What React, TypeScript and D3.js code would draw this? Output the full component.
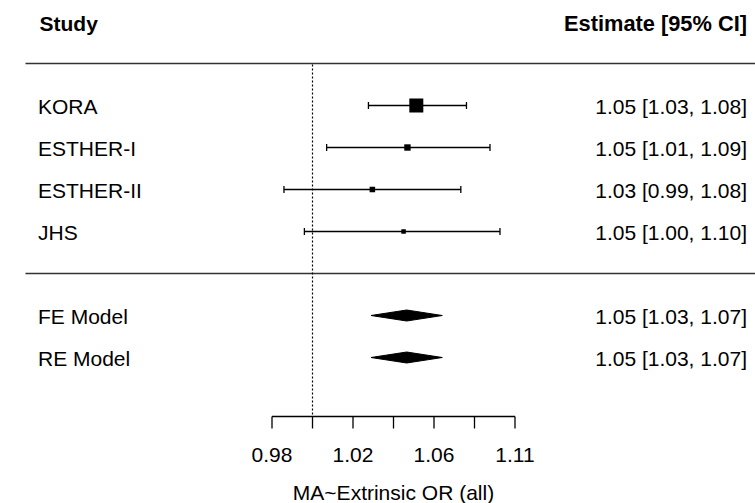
import React from "react";
import * as d3 from "d3";

const studies = ["KORA", "ESTHER-I", "ESTHER-II", "JHS"];
const estOR = [1.0526, 1.048, 1.03, 1.046];
const lowerOR = [1.028, 1.007, 0.986, 0.996];
const upperOR = [1.079, 1.0916, 1.076, 1.097];

const models = ["FE Model", "RE Model"];
const modelEst = [1.0476, 1.0476];
const modelLower = [1.0293, 1.0293];
const modelUpper = [1.0662, 1.0662];

const tickLog = [-0.02, 0, 0.02, 0.04, 0.06, 0.08, 0.1];
const tickLabels = ["0.98", "", "1.02", "", "1.06", "", "1.11"];

const studyRows = [4, 3, 2, 1];
const modelRows = [-1, -2];

const W = 755;
const H = 503;
const FONT = "'Liberation Sans', Arial, sans-serif";
const FS = 21;

export default function App() {
  const x = d3.scaleLinear().domain([-0.02, 0.1]).range([272, 515]);
  const y = d3.scaleLinear().domain([0, 4]).range([273.5, 105.5]);
  const xo = (v: number) => x(Math.log(v));

  const prec = studies.map((_, i) => 3.92 / (Math.log(upperOR[i]) - Math.log(lowerOR[i])));
  const sz = d3.scaleLinear().domain(d3.extent(prec) as [number, number]).range([4.5, 14]);

  const fmt = (v: number) => v.toFixed(2);
  const axisY = 416.5;
  const lw = 1.3;

  return (
    <svg width={W} height={H} style={{ position: "absolute", left: 0, top: 0, background: "#fff" }} fontFamily={FONT}>
      <rect x={0} y={0} width={W} height={H} fill="#fff" />
      {/* headers */}
      <text x={39.5} y={30.5} fontSize={FS} fontWeight="bold">Study</text>
      <text x={747} y={30.5} fontSize={21.8} fontWeight="bold" textAnchor="end">Estimate [95% CI]</text>
      {/* horizontal rules */}
      <line x1={25.5} x2={W} y1={y(5)} y2={y(5)} stroke="#333" strokeWidth={1.5} />
      <line x1={25.5} x2={W} y1={y(0)} y2={y(0)} stroke="#333" strokeWidth={1.5} />
      {/* null line */}
      <line x1={x(0)} x2={x(0)} y1={y(5) + 1} y2={axisY} stroke="#000" strokeWidth={1.2} strokeDasharray="2,2" />
      {/* studies */}
      {studies.map((s, i) => {
        const yy = y(studyRows[i]);
        const side = sz(prec[i]);
        return (
          <g key={s}>
            <text x={38} y={yy + 8} fontSize={FS}>{s}</text>
            <line x1={xo(lowerOR[i])} x2={xo(upperOR[i])} y1={yy} y2={yy} stroke="#000" strokeWidth={lw} />
            <line x1={xo(lowerOR[i])} x2={xo(lowerOR[i])} y1={yy - 3.5} y2={yy + 3.5} stroke="#000" strokeWidth={lw} />
            <line x1={xo(upperOR[i])} x2={xo(upperOR[i])} y1={yy - 3.5} y2={yy + 3.5} stroke="#000" strokeWidth={lw} />
            <rect x={xo(estOR[i]) - side / 2} y={yy - side / 2} width={side} height={side} fill="#000" />
            <text x={747} y={yy + 8} fontSize={FS} textAnchor="end">
              {`${fmt(estOR[i])} [${fmt(lowerOR[i])}, ${fmt(upperOR[i])}]`}
            </text>
          </g>
        );
      })}
      {/* models */}
      {models.map((m, i) => {
        const yy = y(modelRows[i]);
        const pts = [
          [xo(modelLower[i]), yy],
          [xo(modelEst[i]), yy - 5.5],
          [xo(modelUpper[i]), yy],
          [xo(modelEst[i]), yy + 5.5],
        ];
        return (
          <g key={m}>
            <text x={38} y={yy + 8} fontSize={FS}>{m}</text>
            <polygon points={pts.map((p) => p.join(",")).join(" ")} fill="#000" stroke="#000" strokeWidth={1} />
            <text x={747} y={yy + 8} fontSize={FS} textAnchor="end">
              {`${fmt(modelEst[i])} [${fmt(modelLower[i])}, ${fmt(modelUpper[i])}]`}
            </text>
          </g>
        );
      })}
      {/* axis */}
      <line x1={x(tickLog[0])} x2={x(tickLog[tickLog.length - 1])} y1={axisY} y2={axisY} stroke="#000" strokeWidth={1.3} />
      {tickLog.map((t, i) => (
        <g key={t}>
          <line x1={x(t)} x2={x(t)} y1={axisY} y2={axisY + 12} stroke="#000" strokeWidth={1.3} />
          {tickLabels[i] && (
            <text x={x(t)} y={462} fontSize={FS} textAnchor="middle">{tickLabels[i]}</text>
          )}
        </g>
      ))}
      <text x={(x(tickLog[0]) + x(tickLog[tickLog.length - 1])) / 2} y={499.5} fontSize={FS} textAnchor="middle">
        MA~Extrinsic OR (all)
      </text>
    </svg>
  );
}
